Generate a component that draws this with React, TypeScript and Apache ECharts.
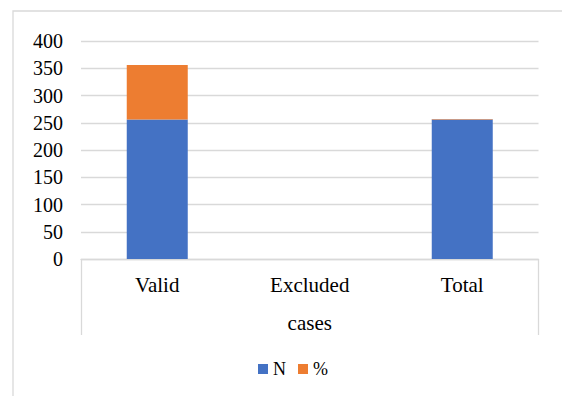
import React, { useEffect, useRef } from "react";
import * as echarts from "echarts";

// Case processing summary
const categories = ["Valid", "Excluded", "Total"];
const groupLabel = ["cases"];
const nValues = [256, 0, 256];
const pctValues = [100, 0, 1];
const seriesNames = ["N", "%"];

const FONT = "Liberation Serif";
const GRID_LINE = "#d9d9d9";

export default function App() {
  const ref = useRef<HTMLDivElement>(null);

  useEffect(() => {
    if (!ref.current) return;
    const chart = echarts.init(ref.current, undefined, { renderer: "svg" });
    chart.setOption({
      animation: false,
      backgroundColor: "#ffffff",
      textStyle: { fontFamily: FONT },
      grid: { left: 81, right: 23.5, top: 41, bottom: 137, containLabel: false },
      legend: {
        data: seriesNames,
        left: 253,
        top: 355,
        icon: "rect",
        itemWidth: 10,
        itemHeight: 10,
        itemGap: 12,
        textStyle: { fontFamily: FONT, fontSize: 18, color: "#000" },
      },
      xAxis: [
        {
          type: "category",
          data: categories,
          axisLine: { show: true, lineStyle: { color: GRID_LINE, width: 1.3 } },
          axisTick: { show: false },
          axisLabel: { margin: 15, fontFamily: FONT, fontSize: 21, color: "#000" },
        },
        {
          type: "category",
          data: groupLabel,
          position: "bottom",
          axisLine: { show: false },
          axisTick: { show: true, length: 76, lineStyle: { color: GRID_LINE, width: 1.3 } },
          axisLabel: { margin: 53, fontFamily: FONT, fontSize: 21, color: "#000" },
        },
      ],
      yAxis: {
        type: "value",
        min: 0,
        max: 400,
        interval: 50,
        axisLine: { show: false },
        axisTick: { show: false },
        axisLabel: { margin: 18, fontFamily: FONT, fontSize: 20, color: "#000" },
        splitLine: { lineStyle: { color: GRID_LINE, width: 1.3 } },
      },
      graphic: [
        {
          type: "rect",
          silent: true,
          shape: { x: 13, y: 11, width: 620, height: 500 },
          style: { fill: "none", stroke: GRID_LINE, lineWidth: 1.3 },
        },
      ],
      series: [
        {
          name: seriesNames[0],
          type: "bar",
          stack: "cases",
          data: nValues,
          barCategoryGap: "60%",
          itemStyle: { color: "#4472C4" },
        },
        {
          name: seriesNames[1],
          type: "bar",
          stack: "cases",
          data: pctValues,
          barCategoryGap: "60%",
          itemStyle: { color: "#ED7D31" },
        },
      ],
    });
    return () => chart.dispose();
  }, []);

  return (
    <div
      ref={ref}
      style={{ position: "fixed", left: 0, top: 0, width: 562, height: 396, background: "#fff" }}
    />
  );
}
